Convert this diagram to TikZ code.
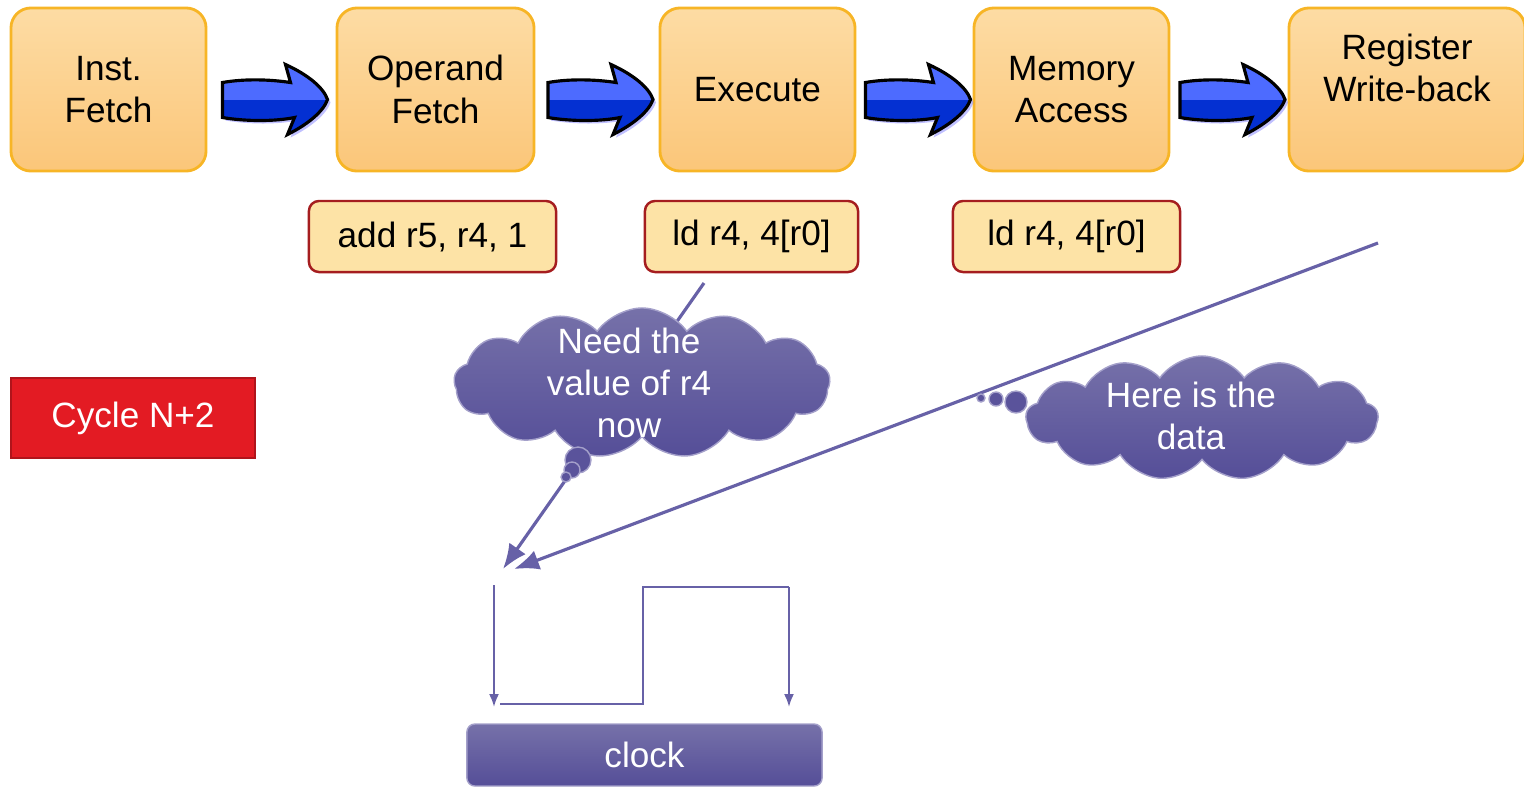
\documentclass[tikz,border=0pt]{standalone}
\usepackage{fontspec}
\setmainfont{Liberation Sans}
\usetikzlibrary{calc,positioning,shapes.symbols,arrows.meta}

\definecolor{stagetop}{HTML}{FDDCA4}
\definecolor{stagebot}{HTML}{FBC679}
\definecolor{stageedge}{HTML}{F7B526}
\definecolor{instrfill}{HTML}{FDE3A6}
\definecolor{instredge}{HTML}{A51D1F}
\definecolor{cyclefill}{HTML}{E31B23}
\definecolor{cycleedge}{HTML}{B0141B}
\definecolor{violettop}{HTML}{7671A9}
\definecolor{violetbot}{HTML}{554E98}
\definecolor{violetline}{HTML}{6761A7}
\definecolor{arrowlight}{HTML}{4D6BFF}
\definecolor{arrowdark}{HTML}{0430D2}

\pgfdeclareverticalshading{arrowshade}{100bp}{color(0bp)=(arrowdark); color(49.9bp)=(arrowdark); color(50.1bp)=(arrowlight); color(100bp)=(arrowlight)}

\tikzstyle{stage}       = [draw=stageedge,line width=0.8pt,rounded corners=0.2cm,
                           top color=stagetop,bottom color=stagebot,
                           minimum height=1.63cm,align=center]
\tikzstyle{instr}       = [draw=instredge,line width=0.7pt,rounded corners=0.1cm,
                           fill=instrfill,minimum height=0.71cm]
\tikzstyle{cyclebox}    = [draw=cycleedge,line width=0.8pt,fill=cyclefill,text=white,
                           minimum width=2.44cm,minimum height=0.8cm]
\tikzstyle{clockbox}    = [draw=violetline!60!white,thin,rounded corners=0.08cm,
                           top color=violettop,bottom color=violetbot,text=white,
                           minimum width=3.55cm,minimum height=0.62cm]
\tikzstyle{thought}     = [cloud,cloud puffs=13,cloud puff arc=110,inner sep=0pt,
                           draw=violetline!60!white,thin,
                           top color=violettop,bottom color=violetbot]
\tikzstyle{thoughttext} = [text=white,align=center]
\tikzstyle{bubble}      = [draw=violetline!60!white,thin,fill=violetbot!85!violettop]
\tikzstyle{wire}        = [violetline,line width=0.9pt,
                           -{Latex[length=0.25cm,width=0.2cm]}]
\tikzstyle{clockline}   = [violetline,line width=0.6pt]

% block arrow between two stages
\newcommand{\stagearrow}[2]{%
    \begin{scope}[shift={($(#1.east)!0.5!(#2.west)+(4,10)$)}]
        \fill[blue!55,opacity=0.45] (-50,-14) .. controls (-27,-18) and (-2,-17) .. (18,-14)
            -- (13,-32) .. controls (35,-22) and (51,-9) .. (55,3)
            .. controls (51,15) and (35,28) .. (15,38) -- (22,21)
            .. controls (3,25) and (-27,25) .. (-50,21) -- cycle;
        \draw[line width=0.9pt,shade,shading=arrowshade]
            (-53,-17) .. controls (-30,-21) and (-5,-20) .. (15,-17)
            -- (10,-35) .. controls (32,-25) and (48,-12) .. (52,0)
            .. controls (48,12) and (32,25) .. (12,35) -- (19,18)
            .. controls (0,22) and (-30,22) .. (-53,18) -- cycle;
    \end{scope}}

\begin{document}
\begin{tikzpicture}[x=0.01cm,y=-0.01cm,font=\fontsize{10}{12}\selectfont]
    \useasboundingbox (0,0) rectangle (1524,787);

    % Pipeline stages
    \node[stage,minimum width=1.95cm] (fetch)   at (108.5,89.5)  {Inst.\\Fetch};
    \node[stage,minimum width=1.97cm] (operand) at (435.5,89.5)  {Operand\\Fetch};
    \node[stage,minimum width=1.95cm] (execute) at (757.5,89.5)  {Execute};
    \node[stage,minimum width=1.95cm] (memory)  at (1071.5,89.5) {Memory\\Access};
    \node[stage,minimum width=2.36cm] (wb)      at (1407,89.5)   {};
    \node[align=center] (wblabel) at (1407,68) {Register\\Write-back};

    % Arrows
    \stagearrow{fetch}{operand}
    \stagearrow{operand}{execute}
    \stagearrow{execute}{memory}
    \stagearrow{memory}{wb}

    % Instructions in flight
    \node[instr,minimum width=2.47cm] (addinstr) at (432.5,236.5)  {add r5, r4, 1};
    \node[instr,minimum width=2.13cm] (ldexec)   at (751.5,236.5)  {ld r4, 4[r0]};
    \node[instr,minimum width=2.27cm] (ldmem)    at (1066.5,236.5) {ld r4, 4[r0]};

    \node[cyclebox] (cyclen) at (133,418) {Cycle N+2};

    % Forwarding
    \coordinate (needtail) at (704,283);
    \coordinate (needhead) at (503,569);
    \coordinate (datatail) at (1378,243);
    \coordinate (datahead) at (514,569);
    \draw[wire] (needtail) -- (needhead);
    \draw[wire] (datatail) -- (datahead);

    \node[thought,aspect=2.5,minimum width=3.76cm,minimum height=1.5cm] (needcloud) at (642,383) {};
    \node[thoughttext] (needtext) at (629,383) {Need the\\value of r4\\now};
    \draw[bubble] (578,460) circle[radius=13];
    \draw[bubble] (572,470) circle[radius=8];
    \draw[bubble] (566,477) circle[radius=5];

    \node[thought,aspect=2.85,minimum width=3.52cm,minimum height=1.24cm] (datacloud) at (1202,418) {};
    \node[thoughttext] (datatext) at (1191,416) {Here is the\\data};
    \draw[bubble] (1016,402) circle[radius=11];
    \draw[bubble] (996,399) circle[radius=7];
    \draw[bubble] (981,398) circle[radius=4];

    % Clock
    \coordinate (fallstart) at (494,585);
    \coordinate (fallend)   at (494,707);
    \coordinate (risestart) at (789,587);
    \coordinate (riseend)   at (789,707);
    \draw[clockline,-{Latex[length=0.13cm,width=0.1cm]}] (fallstart) -- (fallend);
    \draw[clockline] (500,704) -- (643,704) -- (643,587) -- (risestart);
    \draw[clockline,-{Latex[length=0.13cm,width=0.1cm]}] (risestart) -- (riseend);
    \node[clockbox] (clock) at (644.5,755) {clock};
\end{tikzpicture}
\end{document}
